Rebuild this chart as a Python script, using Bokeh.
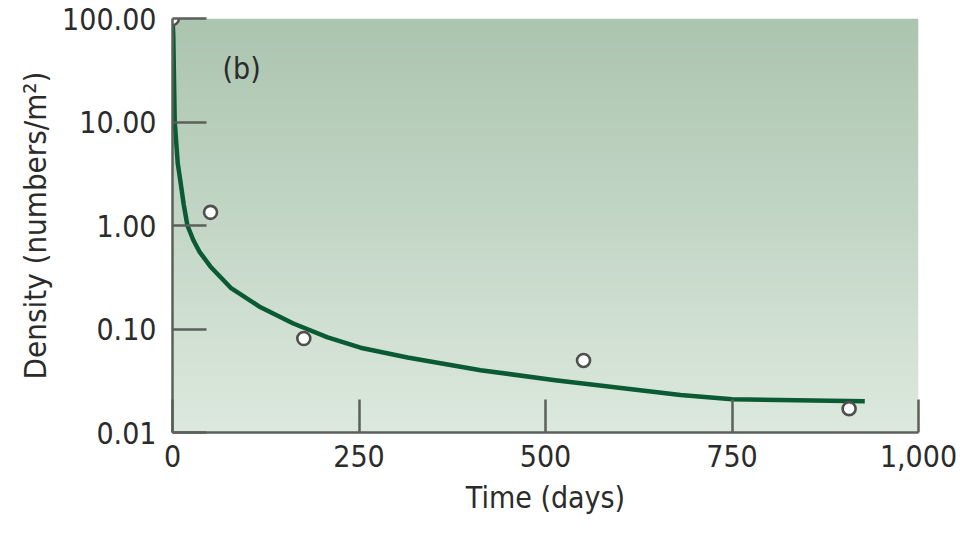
import numpy as np
from bokeh.plotting import figure
from bokeh.models import Range1d, FixedTicker, Label
from bokeh.embed import file_html
from bokeh.resources import INLINE

# ---- data ----
obs_time = [0, 51, 176, 551, 907]
obs_density = [100, 1.34, 0.081, 0.0497, 0.017]

fit_time = [0, 1, 3, 7, 11, 15, 20, 28, 36, 51, 78, 118, 162, 208, 252, 315, 413, 513, 681, 750, 928]
fit_density = [100, 70, 10, 4.0, 2.56, 1.6, 1.0, 0.72, 0.56, 0.40, 0.25, 0.162, 0.113, 0.083,
               0.066, 0.053, 0.040, 0.032, 0.023, 0.021, 0.020]

x_ticks = [0, 250, 500, 750, 1000]
x_tick_labels = ["0", "250", "500", "750", "1,000"]
y_ticks = [0.01, 0.1, 1, 10, 100]
y_tick_labels = ["0.01", "0.10", "1.00", "10.00", "100.00"]

panel_label = "(b)"
x_title = "Time (days)"
y_title = "Density (numbers/m²)"

FONT = "Liberation Sans Narrow, DejaVu Sans Condensed, Noto Sans Condensed, Roboto Condensed, Noto Sans"
TXT = "#2b2b2b"
AX = "#5b605b"

p = figure(width=975, height=533, output_backend="svg", toolbar_location=None,
           y_axis_type="log",
           x_range=Range1d(0, 1000), y_range=Range1d(0.01, 100),
           min_border_left=172, min_border_right=57, min_border_top=18, min_border_bottom=101)

# gradient background of plotting area
top = np.array([171, 197, 175])
bot = np.array([221, 233, 222])
N = 200
t = np.linspace(0, 1, N)[:, None]
cols = (bot * (1 - t) + top * t).astype(np.uint32)
img = np.empty((N, 2), dtype=np.uint32)
view = img.view(dtype=np.uint8).reshape((N, 2, 4))
view[:, :, 0] = cols[:, 0:1]
view[:, :, 1] = cols[:, 1:2]
view[:, :, 2] = cols[:, 2:3]
view[:, :, 3] = 255
xs, xe = p.x_range.start, p.x_range.end
ys, ye = p.y_range.start, p.y_range.end
p.image_rgba(image=[img], x=xs, y=ys, dw=xe - xs, dh=ye - ys)

p.line(fit_time, fit_density, line_color="#0a5a33", line_width=4.5, line_join="round")
p.scatter(obs_time, obs_density, size=13, marker="circle",
          fill_color="white", line_color="#4f4f4f", line_width=2.6)

p.grid.visible = False
p.outline_line_color = None
p.background_fill_color = "white"
p.border_fill_color = "white"

for ax in (p.xaxis[0], p.yaxis[0]):
    ax.axis_line_color = AX
    ax.axis_line_width = 2.5
    ax.major_tick_line_color = AX
    ax.major_tick_line_width = 2.5
    ax.major_tick_out = 0
    ax.minor_tick_line_color = None
    ax.major_label_text_font = FONT
    ax.major_label_text_font_size = "30px"
    ax.major_label_text_color = TXT
    ax.axis_label_text_font = FONT
    ax.axis_label_text_font_size = "30px"
    ax.axis_label_text_font_style = "normal"
    ax.axis_label_text_color = TXT

p.xaxis.ticker = FixedTicker(ticks=x_ticks)
p.xaxis.major_label_overrides = {v: s for v, s in zip(x_ticks, x_tick_labels)}
p.xaxis.major_tick_in = 33
p.xaxis.major_label_standoff = 12
p.xaxis.axis_label = x_title
p.xaxis.axis_label_standoff = 10

p.yaxis.ticker = FixedTicker(ticks=y_ticks)
p.yaxis.major_label_overrides = {v: s for v, s in zip(y_ticks, y_tick_labels)}
p.yaxis.major_tick_in = 34
p.yaxis.major_label_standoff = 16
p.yaxis.axis_label = y_title
p.yaxis.axis_label_text_font_size = "31px"
p.yaxis.axis_label_standoff = 6

p.add_layout(Label(x=67, y=33, text=panel_label, text_font=FONT, text_font_size="30px",
                   text_color=TXT, text_baseline="alphabetic"))

open("out.html", "w").write(file_html(p, INLINE))
